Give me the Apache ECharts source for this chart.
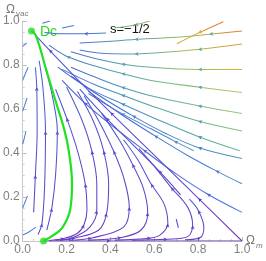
<!DOCTYPE html>
<html><head><meta charset="utf-8">
<script src="https://cdn.jsdelivr.net/npm/echarts@6/dist/echarts.min.js"></script>
<style>html,body{margin:0;padding:0;background:#fff}#c{width:266px;height:261px}</style>
</head><body><div id="c"></div>
<script>
// ---------- data ----------
const axisTicks = [0, 0.2, 0.4, 0.6, 0.8, 1.0];
const dcPoint = [0.04, 0.955];
const sourcePoint = [0.095, 0.0];
const greenCurve = [[0.04,0.955],[0.06,0.935],[0.104,0.79],[0.149,0.64],[0.19,0.505],[0.21,0.41],[0.225,0.26],[0.216,0.14],[0.18,0.06],[0.135,0.023],[0.095,0.0]];

// streamlines above the flat line (flow right -> left, toward Dc)
const upperStreams = [
  [[0.58,1.0],[0.51,0.982],[0.42,0.968]],
  [[0.234,0.98],[0.18,0.968]],
  [[0.125,1.0],[0.09,0.99]],
  [[0.915,0.997],[0.8,0.945],[0.703,0.897]],
  [[1.0,0.955],[0.85,0.94],[0.7,0.926],[0.51,0.916],[0.4,0.908],[0.26,0.9]],
  [[0.38,0.945],[0.28,0.942],[0.18,0.942],[0.1,0.948]],
  [[1.0,0.895],[0.8,0.87],[0.6,0.855],[0.51,0.85],[0.38,0.852],[0.26,0.868]],
  [[1.0,0.78],[0.8,0.78],[0.585,0.79],[0.45,0.805],[0.33,0.83],[0.22,0.86]],
  [[1.0,0.675],[0.8,0.70],[0.585,0.73],[0.45,0.762],[0.33,0.795],[0.2,0.84],[0.12,0.89]],
  [[1.0,0.58],[0.8,0.615],[0.585,0.66],[0.45,0.70],[0.33,0.745],[0.22,0.79]],
  [[1.0,0.50],[0.8,0.545],[0.585,0.615],[0.45,0.665],[0.33,0.71],[0.18,0.78]],
  [[0.99,0.41],[0.8,0.475],[0.585,0.565],[0.45,0.625],[0.3,0.695],[0.16,0.79]],
  [[0.78,0.41],[0.69,0.455],[0.585,0.51],[0.45,0.58],[0.3,0.67]],
  [[1.0,0.375],[0.8,0.425],[0.65,0.49],[0.5,0.57],[0.35,0.66],[0.22,0.75]],
  [[1.0,0.26],[0.88,0.32],[0.75,0.39],[0.6,0.48],[0.45,0.575],[0.3,0.68]],
  [[1.0,0.13],[0.84,0.215],[0.7,0.305],[0.55,0.415],[0.4,0.53],[0.28,0.63],[0.18,0.73]]
];
// flat-universe separatrix from (1,0) to Dc
const flatLine = [[1.0,0.0],[0.8,0.195],[0.6,0.39],[0.4,0.585],[0.25,0.735],[0.12,0.87],[0.04,0.955]];
// U-shaped streamlines below the flat line (start near the source, go right, turn up-left)
const lowerStreams = [
  [[0.12,0.002],[0.19,0.012],[0.25,0.035],[0.28,0.075],[0.293,0.14],[0.285,0.26],[0.25,0.41],[0.2,0.56],[0.15,0.69]],
  [[0.15,0.004],[0.225,0.014],[0.306,0.063],[0.338,0.14],[0.338,0.26],[0.315,0.41],[0.27,0.55],[0.2,0.70]],
  [[0.17,0.004],[0.239,0.014],[0.347,0.05],[0.383,0.127],[0.392,0.26],[0.369,0.41],[0.32,0.55],[0.25,0.68]],
  [[0.21,0.003],[0.315,0.014],[0.46,0.063],[0.486,0.154],[0.46,0.29],[0.414,0.41],[0.35,0.54],[0.28,0.66]],
  [[0.3,0.004],[0.45,0.016],[0.54,0.05],[0.57,0.13],[0.55,0.24],[0.5,0.35],[0.44,0.46],[0.36,0.58]],
  [[0.42,0.004],[0.585,0.014],[0.63,0.03],[0.662,0.08],[0.644,0.17],[0.585,0.26],[0.527,0.366],[0.46,0.46]],
  [[0.5,0.004],[0.66,0.008],[0.752,0.02],[0.775,0.072],[0.752,0.154],[0.676,0.244],[0.608,0.33],[0.53,0.42]],
  [[0.74,0.006],[0.81,0.016],[0.826,0.063],[0.80,0.14],[0.76,0.19]],
  [[0.72,0.21],[0.62,0.32],[0.5,0.44],[0.38,0.56],[0.26,0.69]],
  [[0.71,0.06],[0.70,0.10]]
];
// streamlines left of the green curve (flow upward)
const leftStreams = [
  [[0.05,0.13],[0.058,0.3],[0.066,0.5],[0.064,0.7],[0.058,0.79]],
  [[0.07,0.03],[0.088,0.08],[0.1,0.25],[0.104,0.5],[0.092,0.7],[0.075,0.82]],
  [[0.11,0.05],[0.133,0.15],[0.15,0.3],[0.158,0.5],[0.135,0.66],[0.1,0.8]]
];
const edgeStreams = [
  [[0.0,0.027],[0.03,0.042],[0.06,0.063]],
  [[0.0,0.15],[0.01,0.175],[0.022,0.205]],
  [[0.0,0.44],[0.008,0.47],[0.015,0.5]],
  [[0.0,0.59],[0.01,0.62],[0.02,0.65]],
  [[0.0,0.73],[0.012,0.76],[0.025,0.79]],
  [[0.0,0.885],[0.018,0.9]]
];
const axisStream = [[0.095,0.0],[0.4,0.0],[0.7,0.0],[1.0,0.0]];

// ---------- styles ----------
const upperColors = [
  ['#6fb48a','#9cc060'],['#4a72d4','#4c7ad2'],['#4a68d6','#4a6ed6'],['#d8a838','#e87a2c'],
  ['#4a74d2','#56a2b0','#9cc058','#e27a30'],['#4664d6','#4c80cc'],
  ['#4a70d4','#56a0b0','#a8c050','#e09a30'],['#4a70d4','#55a2ae','#90c068','#d4b430'],
  ['#4668d6','#50a0b0','#7cbc80','#bcc660'],['#4868d6','#4e98b8','#6cb690','#a4c670'],
  ['#4666d6','#4a92bc','#60b09a','#8cc080'],['#4462d8','#4888c6','#52a2ac','#6cb894'],
  ['#4462d8','#4882ca','#4e98b8'],['#4460d8','#4680cc','#4e9cb6'],
  ['#4660d8','#4676d4','#4a8ad0'],['#4a5cd6','#4866d8','#4a74dc']
];
function grad(cols, vertical){
  return {type:'linear', x:0, y:0, x2: vertical?0:1, y2: vertical?1:0,
    colorStops: cols.map((c,i)=>({offset: cols.length===1?0:i/(cols.length-1), color:c}))};
}
function angleAt(pts, i){
  const a = pts[Math.max(0,i-1)], b = pts[Math.min(pts.length-1,i+1)];
  return Math.atan2(b[1]-a[1], b[0]-a[0])*180/Math.PI - 90;
}
function stream(pts, color, solid, arrows){
  return {
    type:'line', silent:true, animation:false, smooth:0.35, showAllSymbol:true,
    symbolSize:[3,4], z:2,
    data: pts.map((p,i)=>({value:p,
      symbol: (arrows && i>0 && i<pts.length-1 && i%2===1) ? 'arrow' : 'none',
      symbolRotate: angleAt(pts,i)})),
    lineStyle:{width:1.05, color:color},
    itemStyle:{color:solid}
  };
}
const series = [];
upperStreams.forEach((s,k)=>{
  const c = upperColors[k];
  series.push(stream(s, grad(c,false), c[Math.floor((c.length-1)/2)], s.length>2));
});
series.push(stream(flatLine, grad(['#4a58d2','#5a4ccc','#7a38b8'],false), '#5648c8', true));
lowerStreams.forEach(s=>series.push(stream(s, grad(['#4e5ad2','#6a3ac4'],true), '#5c44c8', s.length>2)));
leftStreams.forEach(s=>series.push(stream(s, grad(['#4a64d6','#5a46c8'],true), '#5050d0', true)));
edgeStreams.forEach(s=>series.push(stream(s, '#4a82d8', '#4a82d8', false)));
series.push(stream(axisStream, '#6036c0', '#6036c0', true));
series.push({type:'line', silent:true, animation:false, smooth:0.4, symbol:'none', z:5,
  data: greenCurve, lineStyle:{width:2.2, color:'#22e022'}});
series.push({type:'scatter', silent:true, animation:false, z:6, symbolSize:7,
  data:[dcPoint, sourcePoint], itemStyle:{color:'#22e022'}});

const axisCommon = {
  type:'value', min:0, max:1, interval:0.2,
  axisLine:{show:true, lineStyle:{color:'#c8c8c8', width:1}},
  axisTick:{show:true, inside:true, length:4, lineStyle:{color:'#bdbdbd'}},
  minorTick:{show:true, splitNumber:4, length:2, lineStyle:{color:'#cfcfcf'}},
  splitLine:{show:false},
  axisLabel:{color:'#808080', fontSize:12, fontFamily:'Liberation Sans, Arial',
    formatter:v=>axisTicks.some(t=>Math.abs(t-v)<1e-9)?v.toFixed(1):''}
};
const chart = echarts.init(document.getElementById('c'), null, {renderer:'canvas'});
chart.setOption({
  animation:false,
  grid:{left:20, right:24, top:21, bottom:20},
  xAxis: Object.assign({}, axisCommon, {axisLabel:Object.assign({}, axisCommon.axisLabel, {margin:3})}),
  yAxis: Object.assign({}, axisCommon, {axisLabel:Object.assign({}, axisCommon.axisLabel, {margin:3})}),
  series: series,
  graphic:[
    {type:'text', left:6, top:4, silent:true, style:{text:'Ω', font:'12px Liberation Sans', fill:'#777'}},
    {type:'text', left:16, top:10, silent:true, style:{text:'vac', font:'8px Liberation Sans', fill:'#777'}},
    {type:'text', left:246, top:235, silent:true, style:{text:'Ω', font:'12px Liberation Sans', fill:'#777'}},
    {type:'text', left:256, top:242, silent:true, style:{text:'m', font:'italic 8px Liberation Sans', fill:'#777'}},
    {type:'text', left:110, top:23, silent:true, style:{text:'s=−1/2', font:'13px Liberation Sans', fill:'#111'}},
    {type:'text', left:40, top:25, silent:true, style:{text:'Dc', font:'14px Liberation Sans', fill:'#22dd22'}}
  ]
});
</script></body></html>
